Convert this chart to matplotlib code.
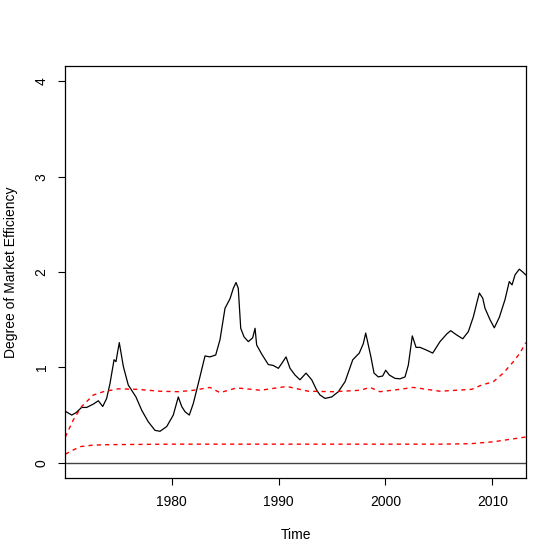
import matplotlib.pyplot as plt

plt.rcParams['font.family'] = ['Liberation Sans', 'DejaVu Sans']

# estimated degree of market efficiency (black line)
eff_years = [1970.05, 1970.65, 1971.05, 1971.58, 1972.05, 1972.67, 1973.14, 1973.55,
             1973.92, 1974.23, 1974.61, 1974.79, 1975.10, 1975.48, 1975.94, 1976.26,
             1976.66, 1977.20, 1977.81, 1978.44, 1978.91, 1979.54, 1980.15, 1980.62,
             1980.94, 1981.25, 1981.65, 1982.02, 1982.49, 1983.12, 1983.58, 1984.12,
             1984.52, 1984.99, 1985.46, 1985.77, 1986.02, 1986.23, 1986.46, 1986.77,
             1987.17, 1987.58, 1987.80, 1987.95, 1988.42, 1989.04, 1989.51, 1989.98,
             1990.29, 1990.70, 1991.07, 1991.54, 1992.00, 1992.57, 1993.10, 1993.57,
             1993.88, 1994.35, 1994.97, 1995.59, 1996.22, 1996.94, 1997.55, 1997.93,
             1998.15, 1998.62, 1998.93, 1999.33, 1999.74, 2000.02, 2000.36, 2000.89,
             2001.36, 2001.83, 2002.14, 2002.51, 2002.86, 2003.23, 2003.86, 2004.42,
             2005.10, 2005.73, 2006.10, 2006.66, 2007.23, 2007.75, 2008.22, 2008.53,
             2008.78, 2009.10, 2009.31, 2009.78, 2010.18, 2010.65, 2011.18, 2011.58,
             2011.84, 2012.12, 2012.52, 2012.84, 2013.12]
eff_values = [0.54, 0.50, 0.525, 0.58, 0.58, 0.615, 0.65, 0.59,
              0.675, 0.83, 1.08, 1.06, 1.26, 1.01, 0.815, 0.76,
              0.69, 0.55, 0.43, 0.34, 0.33, 0.38, 0.50, 0.69,
              0.59, 0.535, 0.50, 0.62, 0.83, 1.12, 1.11, 1.13,
              1.29, 1.62, 1.72, 1.83, 1.89, 1.83, 1.41, 1.32,
              1.27, 1.31, 1.41, 1.235, 1.14, 1.03, 1.02, 0.99,
              1.04, 1.11, 0.99, 0.92, 0.87, 0.94, 0.87, 0.76,
              0.71, 0.675, 0.69, 0.745, 0.85, 1.08, 1.15, 1.25,
              1.36, 1.12, 0.94, 0.90, 0.91, 0.97, 0.92, 0.885,
              0.88, 0.90, 1.025, 1.33, 1.21, 1.21, 1.18, 1.15,
              1.27, 1.35, 1.385, 1.34, 1.30, 1.375, 1.53, 1.67,
              1.78, 1.725, 1.62, 1.50, 1.415, 1.525, 1.71, 1.90,
              1.865, 1.97, 2.03, 2.00, 1.97]

# upper critical band (red dashed)
upper_years = [1970.05, 1970.8, 1971.58, 1972.67, 1973.6, 1975.0, 1976.73, 1978.91,
               1980.62, 1982.02, 1983.58, 1984.52, 1986.08, 1988.3, 1990.76, 1992.78,
               1995.12, 1997.62, 1998.56, 1999.49, 2001.36, 2002.6, 2005.1, 2008.07,
               2009.0, 2010.09, 2011.02, 2011.96, 2012.58, 2013.12]
upper_values = [0.27, 0.45, 0.59, 0.71, 0.745, 0.775, 0.77, 0.75,
                0.745, 0.76, 0.79, 0.735, 0.785, 0.76, 0.80, 0.75,
                0.745, 0.76, 0.79, 0.745, 0.77, 0.79, 0.75, 0.77,
                0.815, 0.85, 0.94, 1.06, 1.15, 1.26]

# lower critical band (red dashed)
lower_years = [1970.05, 1970.9, 1971.5, 1972.67, 1974.2, 1980.0, 1990.0, 2000.0,
               2005.0, 2008.0, 2010.1, 2011.3, 2013.12]
lower_values = [0.09, 0.14, 0.17, 0.185, 0.19, 0.195, 0.195, 0.195,
                0.195, 0.2, 0.22, 0.24, 0.27]

fig = plt.figure(figsize=(5.6, 5.6), dpi=100)
ax = fig.add_axes([0.1166, 0.1464, 0.8222, 0.7357])

ax.axhline(0, color='#444444', lw=1.0)
ax.plot(eff_years, eff_values, color='black', lw=0.9)
ax.plot(upper_years, upper_values, color='red', lw=1.0, dashes=(3, 3))
ax.plot(lower_years, lower_values, color='red', lw=1.0, dashes=(3, 3))

ax.set_xlim(1970.05, 2013.12)
ax.set_ylim(-0.16, 4.16)
ax.set_xticks([1980, 1990, 2000, 2010])
ax.set_yticks([0, 1, 2, 3, 4])
ax.tick_params(direction='out', length=5, width=0.8, labelsize=10, pad=7)
plt.setp(ax.get_yticklabels(), rotation=90, va='center')
for s in ax.spines.values():
    s.set_linewidth(0.9)

ax.set_xlabel("Time", fontsize=10, labelpad=14)
ax.set_ylabel("Degree of Market Efficiency", fontsize=10, labelpad=12)

fig.savefig("out.png", dpi=100)
